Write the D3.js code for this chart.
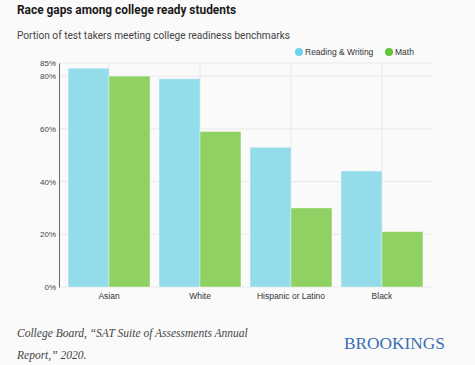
<!DOCTYPE html>
<html>
<head>
<meta charset="utf-8">
<script src="https://cdn.jsdelivr.net/npm/d3@7"></script>
<style>
  body { margin: 0; background: #fafafa; }
  svg { display: block; }
</style>
</head>
<body>
<div class="chart"></div>
<script>
const categories = ["Asian", "White", "Hispanic or Latino", "Black"];
const seriesNames = ["Reading & Writing", "Math"];
const readingWriting = [83, 79, 53, 44];
const math = [80, 59, 30, 21];
const yTicks = [0, 20, 40, 60, 80, 85];
const colors = ["#93dcea", "#8fd163"];
const legendColors = ["#6dd3ea", "#66c23a"];

const width = 475;
const height = 365;
const margin = { top: 63, right: 43, bottom: 78, left: 59 };
const innerW = width - margin.left - margin.right;
const innerH = height - margin.top - margin.bottom;

const svg = d3.select(".chart")
    .append("svg")
    .attr("width", width)
    .attr("height", height);

svg.append("rect")
    .attr("width", width)
    .attr("height", height)
    .attr("fill", "#fafafa");

svg.append("text")
    .attr("x", 17)
    .attr("y", 14)
    .attr("font-family", "Roboto, sans-serif")
    .attr("font-weight", 700)
    .attr("font-size", 13)
    .attr("textLength", 219)
    .attr("lengthAdjust", "spacingAndGlyphs")
    .attr("fill", "#1a1a1a")
    .text("Race gaps among college ready students");

svg.append("text")
    .attr("x", 17)
    .attr("y", 39)
    .attr("font-family", "Roboto, sans-serif")
    .attr("font-size", 10.5)
    .attr("textLength", 273)
    .attr("lengthAdjust", "spacingAndGlyphs")
    .attr("fill", "#444")
    .text("Portion of test takers meeting college readiness benchmarks");

const x0 = d3.scaleBand()
    .domain(categories)
    .range([0, innerW])
    .paddingInner(0.1)
    .paddingOuter(0.1);

const x1 = d3.scaleBand()
    .domain(seriesNames)
    .range([0, x0.bandwidth()]);

const y = d3.scaleLinear()
    .domain([0, 85])
    .range([innerH, 0]);

const g = svg.append("g")
    .attr("transform", "translate(" + margin.left + "," + margin.top + ")");

// grid
g.append("g")
    .selectAll("line")
    .data(yTicks)
    .enter()
    .append("line")
    .attr("x1", 0)
    .attr("x2", innerW)
    .attr("y1", d => y(d))
    .attr("y2", d => y(d))
    .attr("stroke", "#e8e8e8")
    .attr("stroke-width", 1);

g.append("g")
    .selectAll("line")
    .data(categories)
    .enter()
    .append("line")
    .attr("x1", d => x0(d) + x0.bandwidth() / 2)
    .attr("x2", d => x0(d) + x0.bandwidth() / 2)
    .attr("y1", 0)
    .attr("y2", innerH)
    .attr("stroke", "#e8e8e8")
    .attr("stroke-width", 1);

const rows = categories.map((c, i) => ({
    category: c,
    values: [
        { key: seriesNames[0], value: readingWriting[i] },
        { key: seriesNames[1], value: math[i] }
    ]
}));

g.append("g")
    .selectAll("g")
    .data(rows)
    .enter()
    .append("g")
    .attr("transform", d => "translate(" + x0(d.category) + ",0)")
    .selectAll("rect")
    .data(d => d.values)
    .enter()
    .append("rect")
    .attr("x", d => x1(d.key))
    .attr("y", d => y(d.value))
    .attr("width", x1.bandwidth())
    .attr("height", d => innerH - y(d.value))
    .attr("fill", (d, i) => colors[i])
    .attr("stroke", "rgba(255,255,255,0.35)")
    .attr("stroke-width", 1);

// y axis
const yAxis = g.append("g")
    .call(d3.axisLeft(y)
        .tickValues(yTicks)
        .tickSize(0)
        .tickPadding(3)
        .tickFormat(d => d + "%"));
yAxis.select(".domain").attr("stroke", "#666").attr("stroke-width", 1);
yAxis.selectAll("text")
    .attr("font-family", "Liberation Sans, Arial, sans-serif")
    .attr("font-size", 8)
    .attr("fill", "#444");

// x axis
const xAxis = g.append("g")
    .attr("transform", "translate(0," + innerH + ")")
    .call(d3.axisBottom(x0).tickSize(0).tickPadding(6));
xAxis.select(".domain").remove();
xAxis.selectAll("text")
    .attr("font-family", "Liberation Sans, Arial, sans-serif")
    .attr("font-size", 8.5)
    .attr("fill", "#333");

// legend
const legend = svg.append("g")
    .attr("transform", "translate(299,52)");
const legendX = [0, 90];
seriesNames.forEach((name, i) => {
    const item = legend.append("g").attr("transform", "translate(" + legendX[i] + ",0)");
    item.append("circle")
        .attr("r", 4)
        .attr("fill", legendColors[i]);
    item.append("text")
        .attr("x", 6)
        .attr("y", 3)
        .attr("font-family", "Liberation Sans, Arial, sans-serif")
        .attr("font-size", 8.5)
        .attr("fill", "#333")
        .text(name);
});

// source
const source = svg.append("text")
    .attr("font-family", "Liberation Serif, 'DejaVu Serif', serif")
    .attr("font-style", "italic")
    .attr("font-size", 11.5)
    .attr("fill", "#444");
source.append("tspan")
    .attr("x", 17)
    .attr("y", 337)
    .text("College Board, \u201CSAT Suite of Assessments Annual");
source.append("tspan")
    .attr("x", 17)
    .attr("y", 359)
    .text("Report,\u201D 2020.");

svg.append("text")
    .attr("x", 344)
    .attr("y", 349)
    .attr("font-family", "Liberation Serif, 'DejaVu Serif', serif")
    .attr("font-size", 16)
    .attr("textLength", 101)
    .attr("lengthAdjust", "spacingAndGlyphs")
    .attr("fill", "#3a6eb0")
    .text("BROOKINGS");
</script>
</body>
</html>
